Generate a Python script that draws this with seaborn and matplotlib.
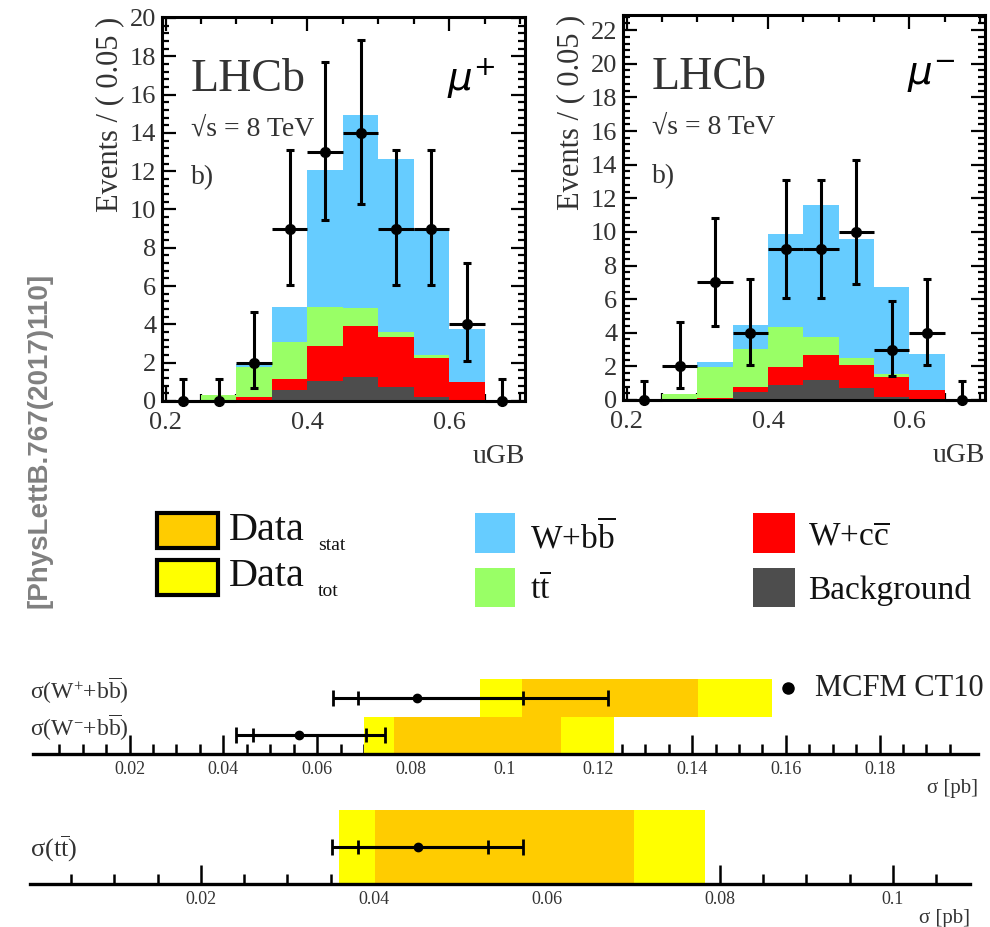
import numpy as np
import pandas as pd
import matplotlib
matplotlib.use("Agg")
import matplotlib.pyplot as plt
import seaborn as sns
from matplotlib.patches import Rectangle
from matplotlib.ticker import MultipleLocator, FixedLocator, FuncFormatter

# ---------------- data ----------------
bin_edges = [0.20, 0.25, 0.30, 0.35, 0.40, 0.45, 0.50, 0.55, 0.60, 0.65, 0.70]
bin_centers = [0.225, 0.275, 0.325, 0.375, 0.425, 0.475, 0.525, 0.575, 0.625, 0.675]
components = ["W+bb", "tt", "W+cc", "Background"]
comp_colors = ["#66ccff", "#99ff66", "#ff0000", "#4d4d4d"]

# mu+ panel (component contributions)
mup_wbb = [0, 0, 0.15, 1.86, 7.14, 10.11, 9.03, 6.57, 2.75, 0]
mup_tt = [0, 0.30, 1.56, 1.94, 2.04, 0.90, 0.29, 0.14, 0.02, 0]
mup_wcc = [0, 0, 0.18, 0.56, 1.84, 2.67, 2.62, 2.03, 0.93, 0]
mup_bkg = [0, 0, 0.05, 0.57, 1.05, 1.27, 0.71, 0.23, 0.05, 0]
mup_data = [0, 0, 2, 9, 13, 14, 9, 9, 4, 0]
mup_hi = [1.15, 1.15, 4.65, 13.1, 17.7, 18.85, 13.1, 13.1, 7.2, 1.15]
mup_lo = [0, 0, 0.7, 6.05, 9.45, 10.3, 6.05, 6.05, 2.08, 0]

# mu- panel
mum_wbb = [0, 0, 0.29, 1.45, 5.56, 7.89, 7.05, 5.20, 2.12, 0]
mum_tt = [0, 0.36, 1.83, 2.29, 2.38, 1.05, 0.40, 0.20, 0.02, 0]
mum_wcc = [0, 0, 0.12, 0.29, 1.04, 1.49, 1.39, 1.15, 0.54, 0]
mum_bkg = [0, 0, 0, 0.46, 0.91, 1.19, 0.71, 0.20, 0.06, 0]
mum_data = [0, 2, 7, 4, 9, 9, 10, 3, 4, 0]
mum_hi = [1.15, 4.65, 10.8, 7.2, 13.1, 13.1, 14.3, 5.9, 7.2, 1.15]
mum_lo = [0, 0.7, 4.4, 2.08, 6.05, 6.05, 6.9, 1.4, 2.08, 0]

# cross-section summary (pb)
wb_rows = ["W-", "W+"]
wb_row_labels = ["σ(W$^{-}$+b$\\overline{\\mathrm{b}}$)", "σ(W$^{+}$+b$\\overline{\\mathrm{b}}$)"]
wb_tot_lo = [0.0700, 0.0948]
wb_tot_hi = [0.1233, 0.1570]
wb_stat_lo = [0.0764, 0.1037]
wb_stat_hi = [0.1121, 0.1413]
wb_mcfm = [0.0562, 0.0814]
wb_mcfm_in_lo = [0.0463, 0.0688]
wb_mcfm_in_hi = [0.0704, 0.1039]
wb_mcfm_out_lo = [0.0427, 0.0634]
wb_mcfm_out_hi = [0.0744, 0.1221]

tt_tot = [0.0360, 0.0783]
tt_stat = [0.0401, 0.0701]
tt_mcfm = 0.0451
tt_mcfm_in = [0.0382, 0.0532]
tt_mcfm_out = [0.0352, 0.0572]

top_ticks_x = [0.2, 0.4, 0.6]
wb_ticks = [0.02, 0.04, 0.06, 0.08, 0.10, 0.12, 0.14, 0.16, 0.18]
tt_ticks = [0.02, 0.04, 0.06, 0.08, 0.10]

legend_labels = ["W+b$\\overline{\\mathrm{b}}$", "t$\\overline{\\mathrm{t}}$",
                 "W+c$\\overline{\\mathrm{c}}$", "Background"]

# ---------------- style ----------------
sns.set_theme(style="ticks")
plt.rcParams["font.family"] = ["Liberation Serif", "DejaVu Serif"]
plt.rcParams["mathtext.fontset"] = "custom"
plt.rcParams["mathtext.rm"] = "Liberation Serif"
plt.rcParams["mathtext.it"] = "Liberation Serif:italic"
plt.rcParams["mathtext.bf"] = "Liberation Serif:bold"

W, H = 990, 927
fig = plt.figure(figsize=(W / 100, H / 100), dpi=100)


def fr(x, y):
    return x / W, 1 - y / H


def axes_px(x0, y0, x1, y1):
    return fig.add_axes([x0 / W, 1 - y1 / H, (x1 - x0) / W, (y1 - y0) / H])


gfmt = FuncFormatter(lambda v, p: "%g" % v)


def hist_panel(ax, wbb, tt, wcc, bkg, data, lo, hi, ylim_top, mu_label):
    rows = []
    for name, vals in zip(components, [wbb, tt, wcc, bkg]):
        for c, v in zip(bin_centers, vals):
            rows.append({"x": c, "w": v, "comp": name})
    df = pd.DataFrame(rows)
    sns.histplot(data=df, x="x", weights="w", hue="comp", hue_order=components,
                 palette=comp_colors, multiple="stack", bins=bin_edges,
                 element="bars", alpha=1, linewidth=0, legend=False, ax=ax)
    d = np.array(data, float)
    ax.errorbar(bin_centers, d, yerr=[d - np.array(lo), np.array(hi) - d],
                fmt="none", ecolor="black", elinewidth=2.2, capsize=3, capthick=2.2,
                clip_on=False, zorder=5)
    ax.errorbar(bin_centers, d, xerr=0.025, fmt="o", color="black", ms=7,
                elinewidth=2.2, capsize=0, clip_on=False, zorder=6)
    ax.set_xlim(0.195, 0.707)
    ax.set_ylim(0, ylim_top)
    ax.xaxis.set_major_locator(FixedLocator(top_ticks_x))
    ax.xaxis.set_minor_locator(MultipleLocator(0.05))
    ax.yaxis.set_major_locator(MultipleLocator(2))
    ax.yaxis.set_minor_locator(MultipleLocator(0.4))
    ax.xaxis.set_major_formatter(gfmt)
    ax.tick_params(which="both", direction="in", top=True, right=True,
                   width=1.6, labelsize=19, color="black", labelcolor="#333333")
    ax.tick_params(which="major", length=10, pad=4)
    ax.tick_params(which="minor", length=5)
    ax.tick_params(axis="x", which="major", pad=8)
    for s in ax.spines.values():
        s.set_linewidth(2.2)
        s.set_color("black")
    ax.set_ylabel("Events / ( 0.05 )", fontsize=22, loc="top", labelpad=4, color="#333333")
    ax.set_xlabel("uGB", fontsize=20, loc="right", labelpad=7, color="#333333")
    ax.text(0.08, 0.836, "LHCb", transform=ax.transAxes, fontsize=33, va="center",
            color="#333333")
    ax.text(0.08, 0.708, "√s = 8 TeV", transform=ax.transAxes, fontsize=20, va="center",
            color="#333333")
    ax.text(0.08, 0.581, "b)", transform=ax.transAxes, fontsize=20, va="center",
            color="#333333")
    ax.text(0.785, 0.84, mu_label, transform=ax.transAxes, fontsize=28, va="center",
            math_fontfamily="dejavusans", color="black")


ax1 = axes_px(162, 17, 525, 401)
hist_panel(ax1, mup_wbb, mup_tt, mup_wcc, mup_bkg, mup_data, mup_lo, mup_hi,
           20.05, r"$\mu^{+}$")
ax2 = axes_px(623, 15, 985, 400)
hist_panel(ax2, mum_wbb, mum_tt, mum_wcc, mum_bkg, mum_data, mum_lo, mum_hi,
           22.9, r"$\mu^{-}$")


def summary_axis(ax, xlim, major, minor_start, minor_stop):
    ax.set_xlim(*xlim)
    for side in ["top", "left", "right"]:
        ax.spines[side].set_visible(False)
    ax.spines["bottom"].set_linewidth(2.4)
    ax.spines["bottom"].set_color("black")
    ax.set_yticks([])
    ax.xaxis.set_major_locator(FixedLocator(major))
    ax.xaxis.set_minor_locator(FixedLocator(list(np.arange(minor_start, minor_stop, 0.005))))
    ax.xaxis.set_major_formatter(gfmt)
    ax.tick_params(axis="x", which="both", direction="in", width=1.8, color="black",
                   labelsize=13, labelcolor="#333333")
    ax.tick_params(axis="x", which="major", length=14, pad=5)
    ax.tick_params(axis="x", which="minor", length=7)
    ax.set_facecolor("none")
    ax.set_xlabel("σ [pb]", fontsize=15, loc="right", labelpad=1, color="#333333")


def mcfm(ax, c, y, lo_in, hi_in, lo_out, hi_out):
    ax.errorbar([c], [y], xerr=[[c - lo_out], [hi_out - c]], fmt="o", color="black",
                ms=6, elinewidth=2.2, capsize=6, capthick=2, zorder=5)
    ax.errorbar([c], [y], xerr=[[c - lo_in], [hi_in - c]], fmt="none", ecolor="black",
                elinewidth=2.2, capsize=5, capthick=2, zorder=5)


# W+bb summary
axA = axes_px(33, 679, 978, 754)
rows_y = [0.5, 1.5]
axA.barh(rows_y, np.array(wb_tot_hi) - np.array(wb_tot_lo), left=wb_tot_lo, height=1.0,
         color="#ffff00", linewidth=0)
axA.barh(rows_y, np.array(wb_stat_hi) - np.array(wb_stat_lo), left=wb_stat_lo, height=1.0,
         color="#ffcc00", linewidth=0)
for i in range(2):
    mcfm(axA, wb_mcfm[i], rows_y[i], wb_mcfm_in_lo[i], wb_mcfm_in_hi[i],
         wb_mcfm_out_lo[i], wb_mcfm_out_hi[i])
axA.set_ylim(0, 2)
summary_axis(axA, (-0.0006, 0.201), wb_ticks, 0.005, 0.199)
for lab, yy in zip(wb_row_labels, [728, 691]):
    fig.text(*fr(30, yy), lab, fontsize=17, va="center", ha="left", color="#333333")

# MCFM legend
fig.add_artist(plt.Line2D([788 / W], [1 - 688 / H], marker="o", color="black", ms=8,
                          transform=fig.transFigure))
fig.text(*fr(815, 688), "MCFM CT10", fontsize=22, va="center", ha="left", color="#222222")

# tt summary
axB = axes_px(30, 810, 970, 884)
axB.barh([0.5], [tt_tot[1] - tt_tot[0]], left=[tt_tot[0]], height=1.0, color="#ffff00",
         linewidth=0)
axB.barh([0.5], [tt_stat[1] - tt_stat[0]], left=[tt_stat[0]], height=1.0, color="#ffcc00",
         linewidth=0)
mcfm(axB, tt_mcfm, 0.5, tt_mcfm_in[0], tt_mcfm_in[1], tt_mcfm_out[0], tt_mcfm_out[1])
axB.set_ylim(0, 1)
summary_axis(axB, (0.00025, 0.1089), tt_ticks, 0.005, 0.107)
fig.text(*fr(30, 849), "σ(t$\\overline{\\mathrm{t}}$)", fontsize=19, va="center", ha="left",
         color="#333333")

# ---------------- legend ----------------
def box(x0, y0, x1, y1, color, edge=None, lw=0):
    fig.add_artist(Rectangle(fr(x0, y1), (x1 - x0) / W, (y1 - y0) / H, facecolor=color,
                             edgecolor=edge if edge else color, linewidth=lw,
                             transform=fig.transFigure))


box(157, 513, 218, 548, "#ffcc00", "black", 3)
box(157, 560, 218, 595, "#ffff00", "black", 3)
fig.text(*fr(229, 530), "Data", fontsize=29, va="center", color="#111111")
fig.text(*fr(318, 546), "stat", fontsize=14, va="center", color="#111111")
fig.text(*fr(229, 577), "Data", fontsize=29, va="center", color="#111111")
fig.text(*fr(318, 591), "tot", fontsize=14, va="center", color="#111111")

leg_pos = [(475, 513, 515, 553, 530, 537), (475, 568, 515, 607, 530, 590),
           (753, 513, 795, 553, 808, 537), (753, 568, 795, 607, 808, 590)]
leg_cols = [comp_colors[0], comp_colors[1], comp_colors[2], comp_colors[3]]
for (x0, y0, x1, y1, tx, ty), col, lab in zip(leg_pos, leg_cols, legend_labels):
    box(x0, y0, x1, y1, col)
    fig.text(*fr(tx, ty), lab, fontsize=24, va="center", color="#111111")

fig.text(*fr(40, 440), "[PhysLettB.767(2017)110]", rotation=90, color="#808080",
         fontweight="bold", fontfamily="Liberation Sans", fontsize=20,
         ha="center", va="center")

fig.savefig("out.png", dpi=100)
